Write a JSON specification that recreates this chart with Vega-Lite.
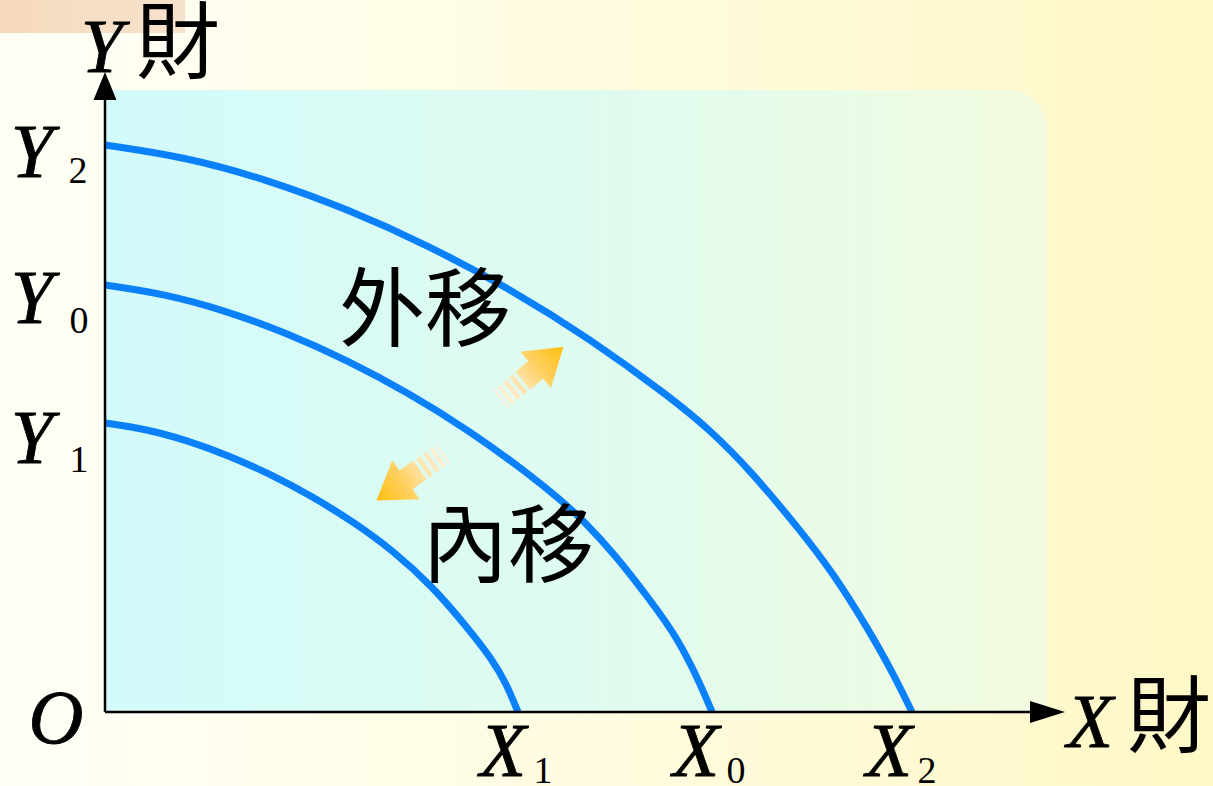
{
  "$schema": "https://vega.github.io/schema/vega-lite/v6.json",
  "width": 955,
  "height": 637,
  "autosize": {"type": "none"},
  "padding": {"left": 105, "top": 75, "right": 153, "bottom": 74},
  "background": "#FFFFF6",
  "config": {"view": {"stroke": null}},
  "datasets": {
    "panels": [
      {"g": "bg", "x": -105, "x2": 1108, "y": -74, "y2": 712},
      {"g": "tab", "x": -105, "x2": 80, "y": 679, "y2": 712},
      {"g": "area", "x": 0, "x2": 942, "y": 0, "y2": 622}
    ],
    "curves": [
      {"curve": "PPF1", "x": 0, "y": 289}, {"curve": "PPF1", "x": 41.3, "y": 282.9}, {"curve": "PPF1", "x": 82.6, "y": 271.5},
      {"curve": "PPF1", "x": 123.9, "y": 256.4}, {"curve": "PPF1", "x": 165.2, "y": 237.9}, {"curve": "PPF1", "x": 206.5, "y": 216.1},
      {"curve": "PPF1", "x": 247.8, "y": 190.5}, {"curve": "PPF1", "x": 289.1, "y": 160.6}, {"curve": "PPF1", "x": 328, "y": 125},
      {"curve": "PPF1", "x": 362, "y": 85}, {"curve": "PPF1", "x": 387, "y": 53}, {"curve": "PPF1", "x": 401, "y": 29},
      {"curve": "PPF1", "x": 413, "y": 0},
      {"curve": "PPF0", "x": 0, "y": 427}, {"curve": "PPF0", "x": 60.7, "y": 417.9}, {"curve": "PPF0", "x": 121.4, "y": 401.1},
      {"curve": "PPF0", "x": 182.1, "y": 378.8}, {"curve": "PPF0", "x": 242.8, "y": 351.5}, {"curve": "PPF0", "x": 303.5, "y": 319.2},
      {"curve": "PPF0", "x": 364.2, "y": 281.5}, {"curve": "PPF0", "x": 424.9, "y": 237.3}, {"curve": "PPF0", "x": 455.25, "y": 212.3},
      {"curve": "PPF0", "x": 478, "y": 192}, {"curve": "PPF0", "x": 512, "y": 155}, {"curve": "PPF0", "x": 545, "y": 112},
      {"curve": "PPF0", "x": 572, "y": 75}, {"curve": "PPF0", "x": 595, "y": 29}, {"curve": "PPF0", "x": 607, "y": 0},
      {"curve": "PPF2", "x": 0, "y": 567}, {"curve": "PPF2", "x": 80.7, "y": 555.0}, {"curve": "PPF2", "x": 161.4, "y": 532.6},
      {"curve": "PPF2", "x": 242.1, "y": 503.0}, {"curve": "PPF2", "x": 322.8, "y": 466.8}, {"curve": "PPF2", "x": 403.5, "y": 423.9},
      {"curve": "PPF2", "x": 484.2, "y": 373.8}, {"curve": "PPF2", "x": 564.9, "y": 315.1}, {"curve": "PPF2", "x": 605.25, "y": 281.9},
      {"curve": "PPF2", "x": 645, "y": 242}, {"curve": "PPF2", "x": 695, "y": 182}, {"curve": "PPF2", "x": 728, "y": 139},
      {"curve": "PPF2", "x": 762, "y": 85}, {"curve": "PPF2", "x": 788, "y": 39}, {"curve": "PPF2", "x": 807, "y": 0}
    ],
    "axes": [
      {"g": "x", "x": 0, "y": 0, "x2": 930, "y2": 0},
      {"g": "y", "x": 0, "y": 0, "x2": 0, "y2": 612}
    ],
    "heads": [
      {"g": "x", "x": 942.5, "y": 0},
      {"g": "y", "x": 0, "y": 626}
    ],
    "shifts": [
      {"g": "out", "x": 427, "y": 339},
      {"g": "in", "x": 305, "y": 235}
    ],
    "labels": [
      {"g": "letter", "x": -73, "y": 535, "t": "Y"},
      {"g": "letter", "x": -73, "y": 389, "t": "Y"},
      {"g": "letter", "x": -73, "y": 249, "t": "Y"},
      {"g": "letter", "x": -49, "y": -31, "t": "O"},
      {"g": "letter", "x": 398, "y": -64, "t": "X"},
      {"g": "letter", "x": 591, "y": -64, "t": "X"},
      {"g": "letter", "x": 784, "y": -64, "t": "X"},
      {"g": "letter", "x": 985, "y": -35, "t": "X"},
      {"g": "letter", "x": -3, "y": 640, "t": "Y"},
      {"g": "sub", "x": -27, "y": 529, "t": "2"},
      {"g": "sub", "x": -26, "y": 379, "t": "0"},
      {"g": "sub", "x": -26, "y": 240, "t": "1"},
      {"g": "sub", "x": 438, "y": -71, "t": "1"},
      {"g": "sub", "x": 631, "y": -71, "t": "0"},
      {"g": "sub", "x": 822, "y": -71, "t": "2"},
      {"g": "axisname", "x": 1064, "y": -9, "t": "財"},
      {"g": "axisname", "x": 73, "y": 665, "t": "財"},
      {"g": "shift", "x": 320, "y": 398, "t": "外移"},
      {"g": "shift", "x": 403, "y": 162, "t": "內移"}
    ]
  },
  "encoding": {
    "x": {"field": "x", "type": "quantitative", "scale": {"domain": [0, 955], "nice": false, "zero": false}, "axis": null},
    "y": {"field": "y", "type": "quantitative", "scale": {"domain": [0, 637], "nice": false, "zero": false}, "axis": null}
  },
  "layer": [
    {
      "data": {"name": "panels"},
      "transform": [{"filter": "datum.g == 'bg'"}],
      "mark": {"type": "rect", "color": {"gradient": "linear", "x1": 0, "x2": 1, "y1": 0, "y2": 0, "stops": [{"offset": 0, "color": "#FFFFF7"}, {"offset": 1, "color": "#FFF8C7"}]}},
      "encoding": {"x2": {"field": "x2"}, "y2": {"field": "y2"}}
    },
    {
      "data": {"name": "panels"},
      "transform": [{"filter": "datum.g == 'tab'"}],
      "mark": {"type": "rect", "color": {"gradient": "linear", "x1": 0, "x2": 1, "y1": 0, "y2": 0, "stops": [{"offset": 0, "color": "#F5D9BD"}, {"offset": 1, "color": "#F7E2CC"}]}},
      "encoding": {"x2": {"field": "x2"}, "y2": {"field": "y2"}}
    },
    {
      "data": {"name": "panels"},
      "transform": [{"filter": "datum.g == 'area'"}],
      "mark": {"type": "rect", "cornerRadiusTopRight": 40, "color": {"gradient": "linear", "x1": 0, "x2": 1, "y1": 0, "y2": 0, "stops": [{"offset": 0, "color": "#D2FBFB"}, {"offset": 0.55, "color": "#E0FBEE"}, {"offset": 1, "color": "#F2FBDF"}]}},
      "encoding": {"x2": {"field": "x2"}, "y2": {"field": "y2"}}
    },
    {
      "data": {"name": "curves"},
      "mark": {"type": "line", "interpolate": "basis", "color": "#0A80FA", "strokeWidth": 7, "strokeCap": "butt"},
      "encoding": {"detail": {"field": "curve"}}
    },
    {
      "data": {"name": "axes"},
      "mark": {"type": "rule", "color": "#000000", "strokeWidth": 2.5},
      "encoding": {"x2": {"field": "x2"}, "y2": {"field": "y2"}}
    },
    {
      "data": {"name": "heads"},
      "transform": [{"filter": "datum.g == 'x'"}],
      "mark": {"type": "point", "filled": true, "color": "#000000", "opacity": 1, "strokeWidth": 0, "shape": "M-1,-0.63L1,0L-1,0.63Z", "size": 1225},
      "encoding": {}
    },
    {
      "data": {"name": "heads"},
      "transform": [{"filter": "datum.g == 'y'"}],
      "mark": {"type": "point", "filled": true, "color": "#000000", "opacity": 1, "strokeWidth": 0, "shape": "M-0.82,1L0,-1L0.82,1Z", "size": 784},
      "encoding": {}
    },
    {
      "data": {"name": "shifts"},
      "transform": [{"filter": "datum.g == 'out'"}],
      "mark": {"type": "point", "filled": true, "opacity": 1, "strokeWidth": 0, "angle": -40, "size": 6700,
        "shape": "M0.12,-0.58L1,0L0.12,0.58ZM-0.3,-0.28L0.14,-0.28L0.14,0.28L-0.3,0.28ZM-0.5,-0.28L-0.38,-0.28L-0.38,0.28L-0.5,0.28ZM-0.7,-0.28L-0.58,-0.28L-0.58,0.28L-0.7,0.28ZM-0.88,-0.28L-0.78,-0.28L-0.78,0.28L-0.88,0.28ZM-1,-0.28L-0.95,-0.28L-0.95,0.28L-1,0.28Z",
        "fill": {"gradient": "linear", "x1": 0, "x2": 1, "y1": 0, "y2": 0, "stops": [{"offset": 0, "color": "#FFF0DC"}, {"offset": 0.35, "color": "#FFE2A6"}, {"offset": 0.6, "color": "#FFD060"}, {"offset": 1, "color": "#FFBE10"}]}},
      "encoding": {}
    },
    {
      "data": {"name": "shifts"},
      "transform": [{"filter": "datum.g == 'in'"}],
      "mark": {"type": "point", "filled": true, "opacity": 1, "strokeWidth": 0, "angle": 145, "size": 6700,
        "shape": "M0.12,-0.58L1,0L0.12,0.58ZM-0.3,-0.28L0.14,-0.28L0.14,0.28L-0.3,0.28ZM-0.5,-0.28L-0.38,-0.28L-0.38,0.28L-0.5,0.28ZM-0.7,-0.28L-0.58,-0.28L-0.58,0.28L-0.7,0.28ZM-0.88,-0.28L-0.78,-0.28L-0.78,0.28L-0.88,0.28ZM-1,-0.28L-0.95,-0.28L-0.95,0.28L-1,0.28Z",
        "fill": {"gradient": "linear", "x1": 0, "x2": 1, "y1": 0, "y2": 0, "stops": [{"offset": 0, "color": "#FFF0DC"}, {"offset": 0.35, "color": "#FFE2A6"}, {"offset": 0.6, "color": "#FFD060"}, {"offset": 1, "color": "#FFBE10"}]}},
      "encoding": {}
    },
    {
      "data": {"name": "labels"},
      "transform": [{"filter": "datum.g == 'letter'"}],
      "mark": {"type": "text", "font": "Liberation Serif", "fontStyle": "italic", "fontSize": 76, "align": "center", "baseline": "alphabetic", "color": "#000000", "stroke": "#000000", "strokeWidth": 0.8},
      "encoding": {"text": {"field": "t"}}
    },
    {
      "data": {"name": "labels"},
      "transform": [{"filter": "datum.g == 'sub'"}],
      "mark": {"type": "text", "font": "Liberation Serif", "fontSize": 38, "align": "center", "baseline": "alphabetic", "color": "#000000"},
      "encoding": {"text": {"field": "t"}}
    },
    {
      "data": {"name": "labels"},
      "transform": [{"filter": "datum.g == 'axisname'"}],
      "mark": {"type": "text", "font": "Noto Sans CJK TC", "fontSize": 84, "align": "center", "baseline": "middle", "color": "#000000"},
      "encoding": {"text": {"field": "t"}}
    },
    {
      "data": {"name": "labels"},
      "transform": [{"filter": "datum.g == 'shift'"}],
      "mark": {"type": "text", "font": "Noto Sans CJK TC", "fontSize": 86, "align": "center", "baseline": "middle", "color": "#000000"},
      "encoding": {"text": {"field": "t"}}
    }
  ]
}
